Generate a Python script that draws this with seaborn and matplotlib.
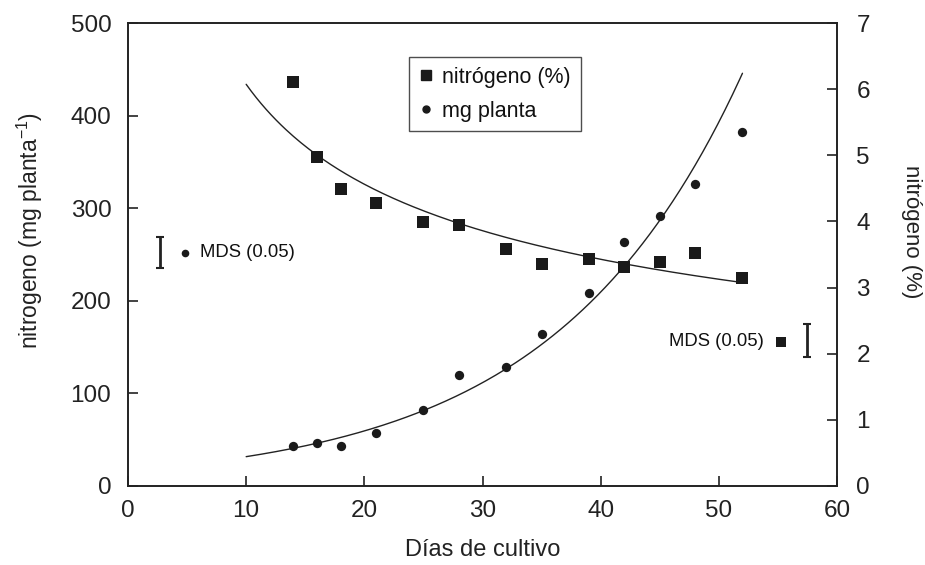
import numpy as np
import pandas as pd
import matplotlib
matplotlib.use("Agg")
import matplotlib.pyplot as plt
import seaborn as sns
from matplotlib.lines import Line2D

# ---- data ----
dias = [14, 16, 18, 21, 25, 28, 32, 35, 39, 42, 45, 48, 52]
nitrogeno_pct = [6.11, 4.97, 4.49, 4.28, 3.99, 3.95, 3.58, 3.36, 3.43, 3.31, 3.39, 3.52, 3.14]
mg_planta = [43, 46, 43, 57, 82, 120, 129, 164, 208, 263, 292, 326, 382]

curve_range = [10, 52]           # x-span of fitted curves
mds_mg = 34                      # MDS (0.05) for mg planta
mds_pct = 0.50                   # MDS (0.05) for nitrogen %

sns.set_style("ticks")
plt.rcParams['font.family'] = ['Liberation Sans', 'DejaVu Sans']
plt.rcParams['text.color'] = '#111111'

fig = plt.figure(figsize=(9.25, 5.65), dpi=100)
ax = fig.add_axes([128/925, 1-486/565, (837-128)/925, (486-23)/565])
ax2 = ax.twinx()

df = pd.DataFrame({"dias": dias, "pct": nitrogeno_pct, "mg": mg_planta})

# fitted curves (power fit for %, exponential fit for mg)
xs = np.linspace(curve_range[0], curve_range[1], 200)
bp, ap = np.polyfit(np.log(df["dias"]), np.log(df["pct"]), 1)
be, ae = np.polyfit(df["dias"], np.log(df["mg"]), 1)
fit = pd.DataFrame({"x": xs, "pct": np.exp(ap) * xs**bp, "mg": np.exp(ae + be*xs)})

sns.lineplot(data=fit, x="x", y="mg", ax=ax, color="#222222", lw=1.0)
sns.scatterplot(data=df, x="dias", y="mg", ax=ax, marker="o", s=45,
                color="#1a1a1a", edgecolor="#1a1a1a", linewidth=0, zorder=5)
sns.lineplot(data=fit, x="x", y="pct", ax=ax2, color="#222222", lw=1.0)
sns.scatterplot(data=df, x="dias", y="pct", ax=ax2, marker="s", s=85,
                color="#1a1a1a", edgecolor="#1a1a1a", linewidth=0, zorder=5)

ax.set_xlim(0, 60)
ax.set_ylim(0, 500)
ax2.set_ylim(0, 7)
ax.set_xticks([0, 10, 20, 30, 40, 50, 60])
ax.set_yticks([0, 100, 200, 300, 400, 500])
ax2.set_yticks(range(0, 8))

for a in (ax, ax2):
    for s in a.spines.values():
        s.set_linewidth(1.2)
        s.set_color("#222222")
ax.tick_params(axis="both", direction="in", length=7, width=1.2, labelsize=17.5, colors="#222222")
ax.tick_params(axis="x", pad=10)
ax.tick_params(axis="y", pad=12)
ax2.tick_params(axis="y", direction="in", length=7, width=1.2, labelsize=17.5, pad=14, colors="#222222")

ax.set_xlabel("Días de cultivo", fontsize=17, labelpad=12, color="#222222")
ax.set_ylabel("nitrogeno (mg planta$^{\\mathregular{-1}}$)", fontsize=16.5, color="#222222",
              rotation=90, ha="center", va="center", rotation_mode="default")
ax.yaxis.set_label_coords((30-128)/709, (486-230)/463)
ax2.set_ylabel("nitrógeno (%)", fontsize=16, color="#222222",
               rotation=270, ha="center", va="center", rotation_mode="default")
ax2.yaxis.set_label_coords((911-128)/709, (486-232)/463)

# MDS annotations
ax.errorbar([2.7], [252], yerr=[mds_mg/2], fmt="none", ecolor="#222222",
            elinewidth=2, capsize=3, capthick=1.5)
ax.scatter([4.8], [252], marker="o", s=30, color="#1a1a1a", linewidth=0)
ax.text(6.1, 252, "MDS (0.05)", fontsize=13.3, va="center", ha="left")

ax2.errorbar([57.5], [2.2], yerr=[mds_pct/2], fmt="none", ecolor="#222222",
             elinewidth=2, capsize=3, capthick=1.5)
ax2.scatter([55.3], [2.18], marker="s", s=55, color="#1a1a1a", linewidth=0)
ax2.text(53.8, 2.18, "MDS (0.05)", fontsize=13.3, va="center", ha="right")

handles = [Line2D([], [], marker="s", ls="none", color="#1a1a1a", ms=7),
           Line2D([], [], marker="o", ls="none", color="#1a1a1a", ms=5)]
leg = ax2.legend(handles, ["nitrógeno (%)", "mg planta"], loc="upper left",
                 bbox_to_anchor=((409-128)/709, (486-57)/463), fontsize=15.5,
                 frameon=True, fancybox=False, edgecolor="#222222",
                 handlelength=0.7, handletextpad=0.4, labelspacing=0.6,
                 borderpad=0.45, borderaxespad=0)
leg.get_frame().set_linewidth(1.0)

fig.savefig("out.png", dpi=100)
